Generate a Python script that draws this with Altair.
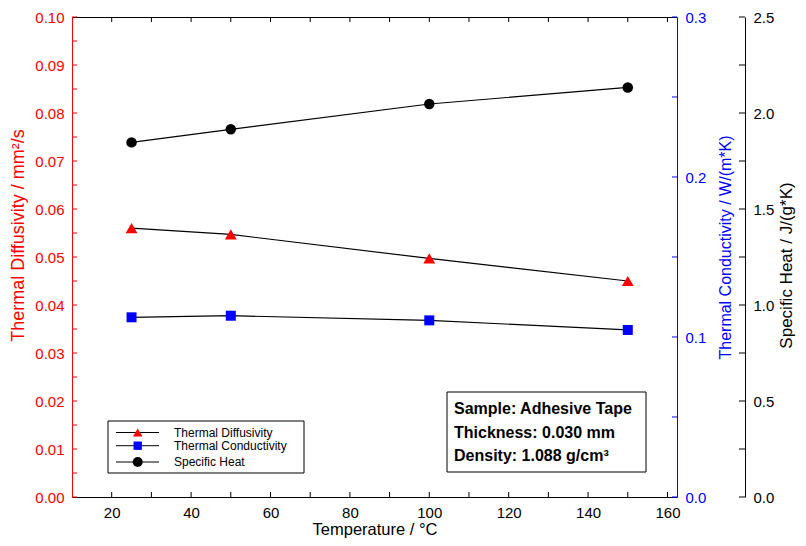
import altair as alt
import pandas as pd

# ---------------- data ----------------
temperature = [25, 50, 100, 150]
thermal_diffusivity = [0.0560, 0.0547, 0.0497, 0.0450]
thermal_conductivity = [0.1123, 0.1133, 0.1104, 0.1044]
specific_heat = [1.847, 1.915, 2.047, 2.133]

x_label_values = [20, 40, 60, 80, 100, 120, 140, 160]
x_tick_values = [20, 30, 40, 50, 60, 70, 80, 90, 100, 110, 120, 130, 140, 150, 160]
diff_label_values = [0.00, 0.01, 0.02, 0.03, 0.04, 0.05, 0.06, 0.07, 0.08, 0.09, 0.10]
diff_tick_values = [0.000, 0.005, 0.010, 0.015, 0.020, 0.025, 0.030, 0.035, 0.040, 0.045, 0.050,
                    0.055, 0.060, 0.065, 0.070, 0.075, 0.080, 0.085, 0.090, 0.095, 0.100]
cond_label_values = [0.0, 0.1, 0.2, 0.3]
cond_tick_values = [0.0, 0.05, 0.10, 0.15, 0.20, 0.25, 0.30]
heat_label_values = [0.0, 0.5, 1.0, 1.5, 2.0, 2.5]
heat_tick_values = [0.0, 0.25, 0.5, 0.75, 1.0, 1.25, 1.5, 1.75, 2.0, 2.25, 2.5]

legend_labels = ["Thermal Diffusivity", "Thermal Conductivity", "Specific Heat"]
info_lines = ["Sample: Adhesive Tape", "Thickness: 0.030 mm", "Density: 1.088 g/cm³"]

# ---------------- layout / style ----------------
W, H = 605, 480
FONT = "Liberation Sans"
RED, BLUE, BLACK = "#ff0000", "#0000ff", "#000000"
THIRD_OFFSET = 68
TICK = 5

df = pd.DataFrame({"T": temperature, "D": thermal_diffusivity,
                   "K": thermal_conductivity, "C": specific_heat})

xs = alt.Scale(domain=[10, 162.4], nice=False, zero=False)


def axis_style(color, **kw):
    base = dict(grid=False, ticks=False, domainColor=color, domainWidth=1,
                labelColor=color, titleColor=color, labelFont=FONT, titleFont=FONT,
                labelFontSize=15, titleFontSize=16, titleFontWeight="normal",
                labelPadding=8)
    base.update(kw)
    return alt.Axis(**base)


def series(field, domain, color, shape, size, axis, tick_vals, tx0, tx1, tick_color):
    line = alt.Chart(df).mark_line(color="black", strokeWidth=1.2).encode(
        x=alt.X("T:Q", scale=xs, axis=None),
        y=alt.Y(f"{field}:Q", scale=alt.Scale(domain=domain, nice=False, zero=False), axis=axis),
    )
    pts = alt.Chart(df).mark_point(filled=True, shape=shape, size=size, color=color, opacity=1).encode(
        x=alt.X("T:Q", scale=xs, axis=None),
        y=alt.Y(f"{field}:Q", scale=alt.Scale(domain=domain, nice=False, zero=False), axis=None),
    )
    ticks = alt.Chart(pd.DataFrame({"v": tick_vals})).mark_rule(color=tick_color, strokeWidth=1).encode(
        y=alt.Y("v:Q", scale=alt.Scale(domain=domain, nice=False, zero=False), axis=None),
        x=alt.value(tx0), x2=alt.value(tx1),
    )
    return [line, pts, ticks]


# x ticks (inward) bottom & top, carrying the x axes
xt = pd.DataFrame({"t": x_tick_values})
bottom_ticks = alt.Chart(xt).mark_rule(color="black", strokeWidth=1).encode(
    x=alt.X("t:Q", scale=xs, axis=axis_style(BLACK, orient="bottom", values=x_label_values,
                                                 title="Temperature / °C", titleY=24,
                                                 titleFontSize=16.5, titleBaseline="top")),
    y=alt.value(H), y2=alt.value(H - TICK),
)
top_ticks = alt.Chart(xt).mark_rule(color="black", strokeWidth=1).encode(
    x=alt.X("t:Q", scale=xs, axis=alt.Axis(orient="top", labels=False, ticks=False, grid=False,
                                           title="", domainColor=BLACK, domainWidth=1)),
    y=alt.value(0), y2=alt.value(TICK),
)

parts_d = series(
    "D", [0, 0.1], RED, "triangle-up", 140,
    axis_style(RED, orient="left", values=diff_label_values, format=".2f",
               title="Thermal Diffusivity / mm²/s", titlePadding=7, titleFontSize=18, titleY=218),
    diff_tick_values, 0, TICK, RED)

parts_k = series(
    "K", [0, 0.3], BLUE, "square", 100,
    axis_style(BLUE, orient="right", values=cond_label_values, format=".1f",
               title="Thermal Conductivity / W/(m*K)", titleAngle=270, titleBaseline="top",
               titlePadding=12, titleY=230),
    cond_tick_values, W - TICK, W, BLUE)

parts_c = series(
    "C", [0, 2.5], BLACK, "circle", 110,
    axis_style(BLACK, orient="right", offset=THIRD_OFFSET, values=heat_label_values, format=".1f",
               title="Specific Heat / J/(g*K)", titleAngle=270, titleBaseline="top",
               titlePadding=5, titleFontSize=17, titleY=248),
    heat_tick_values, W + THIRD_OFFSET - 6, W + THIRD_OFFSET, BLACK)

# ---------------- legend box ----------------
one = pd.DataFrame({"a": [0]})
legend_parts = [
    alt.Chart(one).mark_rect(fill="white", stroke="black", strokeWidth=1).encode(
        x=alt.value(36), x2=alt.value(232), y=alt.value(404), y2=alt.value(456))
]
leg_y = [415.5, 428.7, 445.0]
leg_shapes = [("triangle-up", RED, 90), ("square", BLUE, 70), ("circle", BLACK, 100)]
for i, lab in enumerate(legend_labels):
    d = pd.DataFrame({"label": [lab]})
    shp, col, sz = leg_shapes[i]
    legend_parts.append(alt.Chart(d).mark_rule(color="black", strokeWidth=1).encode(
        x=alt.value(44), x2=alt.value(87), y=alt.value(leg_y[i])))
    legend_parts.append(alt.Chart(d).mark_point(filled=True, shape=shp, size=sz, color=col, opacity=1).encode(
        x=alt.value(65.7), y=alt.value(leg_y[i])))
    legend_parts.append(alt.Chart(d).mark_text(align="left", baseline="middle", font=FONT, fontSize=12,
                                               color="black").encode(
        x=alt.value(102), y=alt.value(leg_y[i]), text="label:N"))

# ---------------- info box ----------------
info_parts = [
    alt.Chart(one).mark_rect(fill="white", stroke="black", strokeWidth=1).encode(
        x=alt.value(375), x2=alt.value(574), y=alt.value(375), y2=alt.value(455))
]
info_y = [392, 415.5, 438.5]
for i, line_txt in enumerate(info_lines):
    d = pd.DataFrame({"line": [line_txt]})
    info_parts.append(alt.Chart(d).mark_text(align="left", baseline="middle", font=FONT, fontSize=16,
                                             fontWeight="bold", color="black").encode(
        x=alt.value(382), y=alt.value(info_y[i]), text="line:N"))

chart = alt.layer(
    *parts_d, *parts_k, *parts_c, bottom_ticks, top_ticks, *legend_parts, *info_parts
).resolve_scale(
    y="independent"
).properties(
    width=W, height=H,
    autosize=alt.AutoSizeParams(type="none"),
    padding={"left": 64, "top": 9, "right": 121, "bottom": 41},
    background="white",
).configure_view(stroke="transparent")

chart.save("out.html", embed_options={"renderer": "svg", "actions": False})
